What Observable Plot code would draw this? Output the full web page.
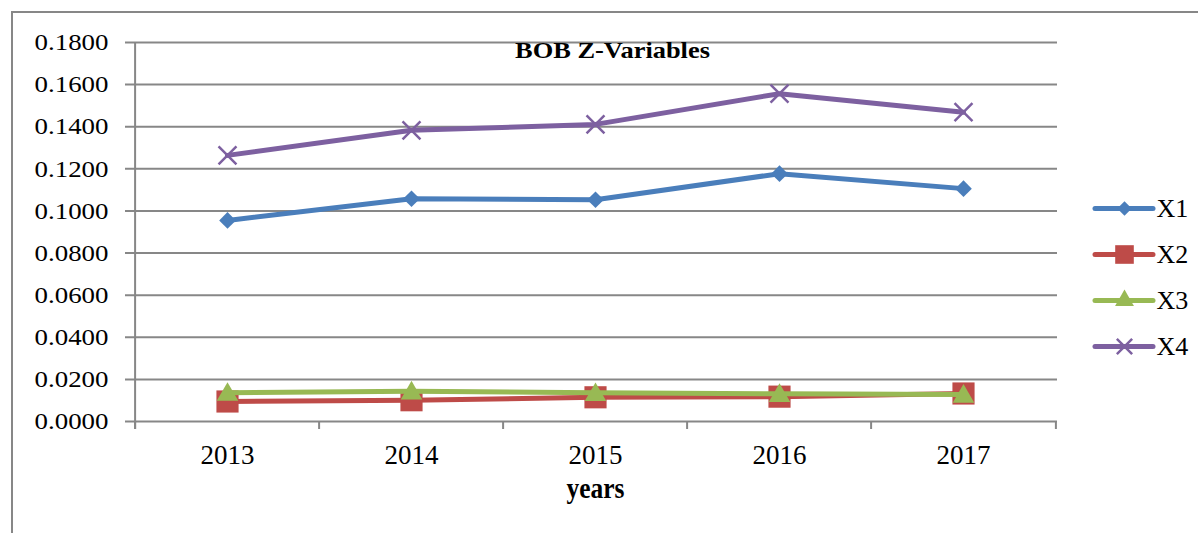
<!DOCTYPE html>
<html><head><meta charset="utf-8">
<script src="https://cdn.jsdelivr.net/npm/d3@7"></script>
<script src="https://cdn.jsdelivr.net/npm/@observablehq/plot@0.6"></script>
<style>
html,body{margin:0;padding:0;background:#fff;overflow:hidden;}
#wrap{position:relative;width:1198px;height:533px;overflow:hidden;}
#frame{position:absolute;left:11px;top:11px;width:1400px;height:800px;border-left:2px solid #878787;border-top:2px solid #878787;pointer-events:none;z-index:5;}
#chart,#legend{position:absolute;}
#chart{left:0;top:0;}
#legend{left:1088px;top:185px;}
</style></head><body>
<div id="wrap"><div id="chart"></div><div id="legend"></div><div id="frame"></div></div>
<script>
// ---- data ----
const years = ["2013", "2014", "2015", "2016", "2017"];
const seriesNames = ["X1", "X2", "X3", "X4"];
const x1 = [0.0955, 0.1058, 0.1053, 0.1177, 0.1106];
const x2 = [0.0095, 0.0101, 0.0115, 0.0118, 0.0133];
const x3 = [0.0137, 0.0144, 0.0136, 0.0132, 0.0128];
const x4 = [0.1264, 0.1383, 0.1411, 0.1557, 0.1469];
const yTicks = [0, 0.02, 0.04, 0.06, 0.08, 0.10, 0.12, 0.14, 0.16, 0.18];
const titleText = "BOB Z-Variables";
const xLabelText = "years";

// ---- styles ----
const colors = ["#4A7EBB", "#BE4B48", "#98B954", "#7D60A0"];
const symbols = ["diamond2", "square", "triangle", "times"];
const markerR = [7.5, 12.5, 8, 8.2];
const legendR = [6.5, 10.5, 7, 7];
const gray = "#878787";
const serif = "'Liberation Serif','Times New Roman',serif";

const values = [x1, x2, x3, x4];
const data = seriesNames.flatMap((s, i) => years.map((y, j) => ({series: s, year: y, value: values[i][j]})));

const W = 1198, H = 533, mL = 133, mR = 141, mT = 42, mB = 112;
const step = (W - mL - mR) / years.length;
const fmt = d3.format(".4f");

function dotOpts(i, r) {
  const stroked = symbols[i] === "times";
  return {symbol: symbols[i], r, fill: stroked ? "none" : colors[i], stroke: stroked ? colors[i] : "none", strokeWidth: stroked ? 2.5 : 0};
}

const seriesMarks = seriesNames.flatMap((s, i) => {
  const d = data.filter(e => e.series === s);
  return [
    Plot.line(d, {x: "year", y: "value", stroke: colors[i], strokeWidth: 5, strokeLinejoin: "round", strokeLinecap: "round"}),
    Plot.dot(d, {x: "year", y: "value", ...dotOpts(i, markerR[i]), dy: symbols[i] === "triangle" ? 2 : 0})
  ];
});

const chart = Plot.plot({
  width: W, height: H,
  marginLeft: mL, marginRight: mR, marginTop: mT, marginBottom: mB,
  style: {fontFamily: serif, color: "#000", background: "transparent", overflow: "visible"},
  x: {type: "point", domain: years, padding: 0.5},
  y: {domain: [0, 0.18]},
  marks: [
    Plot.ruleY(yTicks, {y: d => d, stroke: gray, strokeWidth: 2, insetLeft: -8}),
    Plot.ruleX([years[0]], {x: d => d, dx: -step / 2, stroke: gray, strokeWidth: 2, insetBottom: -8}),
    Plot.ruleX(years, {x: d => d, dx: -step / 2, y1: 0, y2: 0, insetBottom: -8, stroke: gray, strokeWidth: 2}),
    Plot.ruleX([years[years.length - 1]], {x: d => d, dx: step / 2, y1: 0, y2: 0, insetBottom: -8, stroke: gray, strokeWidth: 2}),
    Plot.axisY(yTicks, {tickFormat: fmt, tickSize: 0, tickPadding: 25, fontSize: 24, label: null}),
    Plot.axisX({tickSize: 0, tickPadding: 23, fontSize: 27, label: null}),
    ...seriesMarks,
    Plot.text([titleText], {text: d => d, frameAnchor: "top", dy: -2, dx: 17, fontSize: 24, fontWeight: "bold"}),
    Plot.text([xLabelText], {text: d => d, frameAnchor: "bottom", dy: 76, fontSize: 29, fontWeight: "bold"})
  ]
});
document.getElementById("chart").appendChild(chart);

// stretch texts horizontally to match target widths (measured after layout)
function fitWidth(match, target) {
  chart.querySelectorAll("text").forEach(t => {
    if (!match(t.textContent)) return;
    const w = t.getBBox().width;
    if (!w) return;
    const sx = target / w;
    const tr = t.getAttribute("transform");
    if (tr) t.setAttribute("transform", tr + ` scale(${sx},1)`);
    else {
      const x = +t.getAttribute("x") || 0;
      t.removeAttribute("x");
      t.setAttribute("transform", `translate(${x},0) scale(${sx},1)`);
    }
  });
}
const yLabelSet = new Set(yTicks.map(fmt));
fitWidth(s => yLabelSet.has(s), 74);
fitWidth(s => s === titleText, 195);
fitWidth(s => s === xLabelText, 58);

const legend = Plot.plot({
  width: 110, height: 200,
  marginLeft: 7, marginRight: 45, marginTop: 22, marginBottom: 39,
  style: {fontFamily: serif, color: "#000", background: "transparent", overflow: "visible"},
  x: {domain: [0, 1], axis: null},
  y: {type: "point", domain: seriesNames, padding: 0, axis: null},
  marks: [
    ...seriesNames.flatMap((s, i) => [
      Plot.ruleY([s], {y: d => d, x1: 0, x2: 1, stroke: colors[i], strokeWidth: 5, strokeLinecap: "round"}),
      Plot.dot([s], {x: 0.5, y: d => d, ...dotOpts(i, legendR[i])})
    ]),
    Plot.text(seriesNames, {x: 1, y: d => d, text: d => d, textAnchor: "start", dx: 3, fontSize: 26})
  ]
});
document.getElementById("legend").appendChild(legend);
</script>
</body></html>
